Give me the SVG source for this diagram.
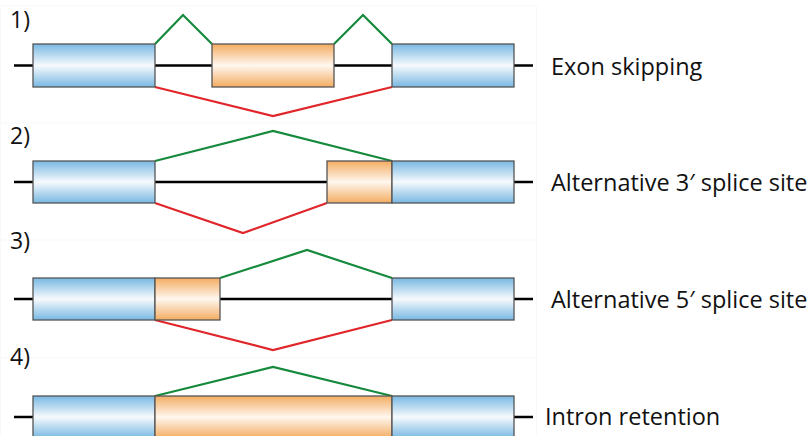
<svg xmlns="http://www.w3.org/2000/svg" width="808" height="436" viewBox="0 0 808 436">
<defs>
<linearGradient id="gb" x1="0" y1="0" x2="0" y2="1">
<stop offset="0" stop-color="#78b8e2"/>
<stop offset="0.5" stop-color="#f6fafd"/>
<stop offset="1" stop-color="#78b8e2"/>
</linearGradient>
<linearGradient id="go" x1="0" y1="0" x2="0" y2="1">
<stop offset="0" stop-color="#f3ac62"/>
<stop offset="0.5" stop-color="#fff7ef"/>
<stop offset="1" stop-color="#f3ac62"/>
</linearGradient>
</defs>
<style>
.b{fill:url(#gb);stroke:#555;stroke-width:1.3}
.o{fill:url(#go);stroke:#555;stroke-width:1.3}
.ln{stroke:#000;stroke-width:2.5;fill:none}
.g{stroke:#168a3c;stroke-width:2.2;fill:none;stroke-linejoin:miter}
.r{stroke:#e0262a;stroke-width:2.2;fill:none}
.t{font-family:"Open Sans","Noto Sans",sans-serif;font-size:23.5px;fill:#111}
.n{font-family:"Open Sans","Noto Sans",sans-serif;font-size:23px;fill:#111}
.pn{fill:none;stroke:#f9f9f9;stroke-width:1}
</style>
<rect width="808" height="436" fill="#fff"/>
<g id="panels">
<rect class="pn" x="0.5" y="6" width="536" height="117"/>
<rect class="pn" x="0.5" y="123" width="536" height="117"/>
<rect class="pn" x="0.5" y="240" width="536" height="118"/>
<rect class="pn" x="0.5" y="358" width="536" height="80"/>
</g>
<g id="connectors">
<line class="ln" x1="14" y1="65.5" x2="533" y2="65.5"/>
<line class="ln" x1="14" y1="182" x2="533" y2="182"/>
<line class="ln" x1="14" y1="299" x2="533" y2="299"/>
<line class="ln" x1="14" y1="417" x2="533" y2="417"/>
<polyline class="g" points="155,44 183,15 212,44"/>
<polyline class="g" points="334,44 363,15 392,44"/>
<polyline class="r" points="155,87 273,116 392,87"/>
<polyline class="g" points="155,161 273,131 392,161"/>
<polyline class="r" points="155,203 243,233 327,203"/>
<polyline class="g" points="220,278 307,250 392,278"/>
<polyline class="r" points="155,320 273,350 392,320"/>
<polyline class="g" points="155,396 273,367 392,396"/>
</g>
<g id="row1">
<text class="n" x="10" y="28">1)</text>
<rect class="b" x="33" y="44" width="122" height="43"/>
<rect class="o" x="212" y="44" width="122" height="43"/>
<rect class="b" x="392" y="44" width="122" height="43"/>
<text class="t" x="551" y="75">Exon skipping</text>
</g>
<g id="row2">
<text class="n" x="10" y="144">2)</text>
<rect class="b" x="33" y="161" width="122" height="42"/>
<rect class="o" x="327" y="161" width="65" height="42"/>
<rect class="b" x="392" y="161" width="122" height="42"/>
<text class="t" x="551" y="191">Alternative 3′ splice site</text>
</g>
<g id="row3">
<text class="n" x="10" y="249">3)</text>
<rect class="b" x="33" y="278" width="122" height="42"/>
<rect class="o" x="155" y="278" width="65" height="42"/>
<rect class="b" x="392" y="278" width="122" height="42"/>
<text class="t" x="551" y="308">Alternative 5′ splice site</text>
</g>
<g id="row4">
<text class="n" x="10" y="365">4)</text>
<rect class="b" x="33" y="396" width="122" height="42"/>
<rect class="o" x="155" y="396" width="237" height="42"/>
<rect class="b" x="392" y="396" width="122" height="42"/>
<text class="t" x="545" y="425">Intron retention</text>
</g>
</svg>
